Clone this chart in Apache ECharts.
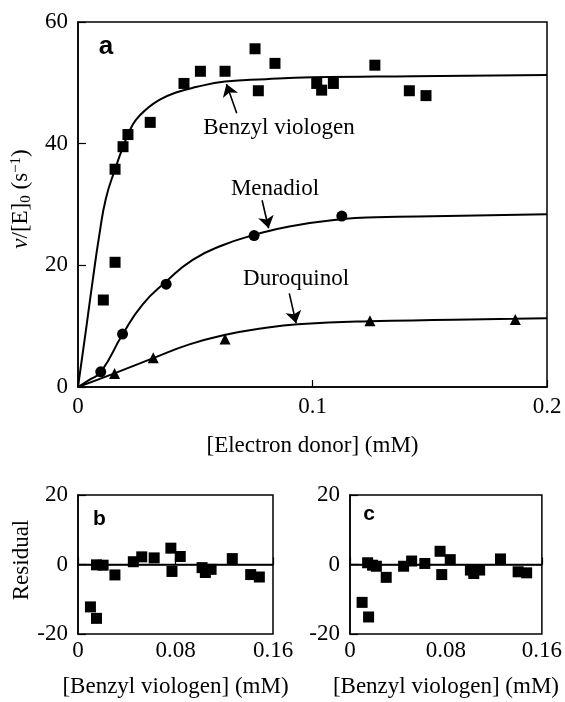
<!DOCTYPE html>
<html>
<head>
<meta charset="utf-8">
<script src="https://cdn.jsdelivr.net/npm/echarts@6/dist/echarts.min.js"></script>
<style>
  html, body { margin: 0; padding: 0; background: #fff; }
  #chart { width: 565px; height: 702px; }
</style>
</head>
<body>
<div id="chart"></div>
<script>
// ---------- Data ----------
// Panel a: measured points
const bvX = [0.0108, 0.0158, 0.0158, 0.0192, 0.0213, 0.0308, 0.0452, 0.0522, 0.0627, 0.0755, 0.0769, 0.0840, 0.1018, 0.1039, 0.1089, 0.1266, 0.1413, 0.1484];
const bvY = [14.3, 20.5, 35.8, 39.5, 41.5, 43.5, 49.9, 51.9, 51.9, 55.6, 48.7, 53.2, 49.9, 48.8, 49.9, 52.9, 48.7, 47.9];
const mdX = [0.0097, 0.0190, 0.0376, 0.0751, 0.1125];
const mdY = [2.5, 8.7, 16.9, 24.9, 28.1];
const dqX = [0.0156, 0.0321, 0.0627, 0.1245, 0.1865];
const dqY = [2.2, 4.8, 7.9, 10.9, 11.1];

// Panel a: fitted curves
const bvFitX = [0, 0.0034, 0.0063, 0.0091, 0.0119, 0.0159, 0.0191, 0.0219, 0.0247, 0.0290, 0.0347, 0.0418, 0.0503, 0.0627, 0.0800, 0.1000, 0.1430, 0.2000];
const bvFitY = [0, 9.4, 17.6, 25.0, 31.0, 35.9, 39.4, 42.0, 43.9, 45.6, 47.2, 48.4, 49.3, 50.2, 50.6, 50.9, 51.1, 51.3];
const mdFitX = [0, 0.0050, 0.0098, 0.0191, 0.0276, 0.0375, 0.0489, 0.0617, 0.0752, 0.0901, 0.1129, 0.1271, 0.1572, 0.2000];
const mdFitY = [0, 1.2, 2.5, 8.7, 13.6, 17.3, 20.9, 23.3, 25.0, 26.4, 27.6, 27.9, 28.1, 28.4];
const dqFitX = [0, 0.0155, 0.0318, 0.0475, 0.0624, 0.0788, 0.0937, 0.1242, 0.1856, 0.2000];
const dqFitY = [0, 2.25, 4.7, 7.0, 8.55, 9.65, 10.3, 10.8, 11.2, 11.3];

// Panel b and c: residuals
const resBX = [0.0102, 0.0152, 0.0152, 0.0206, 0.0303, 0.0454, 0.0523, 0.0625, 0.0762, 0.0771, 0.0839, 0.1018, 0.1045, 0.1092, 0.1266, 0.1417, 0.1488];
const resBY = [-12.2, -15.5, -0.1, -0.2, -3.0, 0.8, 2.2, 1.9, 4.7, -2.0, 2.3, -0.9, -2.3, -1.4, 1.7, -2.9, -3.6];
const resCX = [0.0101, 0.0155, 0.0147, 0.0188, 0.0220, 0.0302, 0.0447, 0.0514, 0.0624, 0.0751, 0.0765, 0.0836, 0.1004, 0.1032, 0.1081, 0.1255, 0.1402, 0.1473];
const resCY = [-10.9, -15.1, 0.5, -0.2, -0.5, -3.7, -0.5, 1.0, 0.3, 3.8, -2.9, 1.4, -1.6, -2.6, -1.6, 1.6, -2.1, -2.4];

// Axis ticks / labels
const mainXTicks = { min: 0, max: 0.2, interval: 0.1 };
const mainYTicks = { min: 0, max: 60, interval: 20 };
const resXTicks = { min: 0, max: 0.16, interval: 0.08 };
const resYTicks = { min: -20, max: 20, interval: 20 };

// Annotations (data coordinates of panel a)
const annoNames = ['Benzyl viologen', 'Menadiol', 'Duroquinol'];
const annoTextX = [0.0857, 0.0840, 0.0930];
const annoTextY = [42.6, 32.5, 17.7];
const arrowFromX = [0.0677, 0.0785, 0.0901];
const arrowFromY = [45.0, 30.7, 15.4];
const arrowToX = [0.0633, 0.0813, 0.0930];
const arrowToY = [49.8, 26.1, 10.5];

// ---------- Build ----------
const zip = (xs, ys) => xs.map((x, i) => [x, ys[i]]);
const SERIF = 'Liberation Serif, Times New Roman, serif';
const SANS = 'Liberation Sans, Arial, sans-serif';
const BLACK = '#000';

function xAxisCfg(grid, ticks, nameText, nameGap, margin) {
  return {
    type: 'value', gridIndex: grid, min: ticks.min, max: ticks.max, interval: ticks.interval,
    name: nameText, nameLocation: 'middle', nameGap: nameGap,
    nameTextStyle: { fontFamily: SERIF, fontSize: 23, color: BLACK },
    axisLine: { show: true, lineStyle: { color: BLACK, width: 1.5 } },
    axisTick: { show: true, inside: true, length: 7, lineStyle: { color: BLACK, width: 1.2 } },
    axisLabel: { fontFamily: SERIF, fontSize: 23, color: BLACK, margin: margin,
      formatter: v => (Math.round(v * 1000) / 1000).toString() },
    splitLine: { show: false }
  };
}
function yAxisCfg(grid, ticks) {
  return {
    type: 'value', gridIndex: grid, min: ticks.min, max: ticks.max, interval: ticks.interval,
    axisLine: { show: true, lineStyle: { color: BLACK, width: 1.5 } },
    axisTick: { show: true, inside: true, length: 8, lineStyle: { color: BLACK, width: 1.2 } },
    axisLabel: { fontFamily: SERIF, fontSize: 23, color: BLACK, margin: 10 },
    splitLine: { show: false }
  };
}

const chart = echarts.init(document.getElementById('chart'), null, { renderer: 'canvas' });

const lineBase = { type: 'line', showSymbol: false, smooth: 0.5,
  lineStyle: { color: BLACK, width: 2 }, silent: true, z: 2 };
const dot = { color: BLACK, opacity: 1 };

const option = {
  animation: false,
  backgroundColor: '#fff',
  grid: [
    { left: 78, top: 22, width: 469, height: 365, show: true, borderColor: BLACK, borderWidth: 1.5, backgroundColor: 'transparent' },
    { left: 78, top: 495, width: 195, height: 139, show: true, borderColor: BLACK, borderWidth: 1.5, backgroundColor: 'transparent' },
    { left: 350, top: 495, width: 196, height: 139, show: true, borderColor: BLACK, borderWidth: 1.5, backgroundColor: 'transparent' }
  ],
  xAxis: [
    xAxisCfg(0, mainXTicks, '[Electron donor] (mM)', 47, 8),
    xAxisCfg(1, resXTicks, '[Benzyl viologen] (mM)', 41, 5),
    xAxisCfg(2, resXTicks, '[Benzyl viologen] (mM)', 41, 5)
  ],
  yAxis: [
    yAxisCfg(0, mainYTicks),
    yAxisCfg(1, resYTicks),
    yAxisCfg(2, resYTicks)
  ],
  series: [
    Object.assign({}, lineBase, { name: 'bvFit', xAxisIndex: 0, yAxisIndex: 0, data: zip(bvFitX, bvFitY) }),
    Object.assign({}, lineBase, { name: 'mdFit', xAxisIndex: 0, yAxisIndex: 0, data: zip(mdFitX, mdFitY) }),
    Object.assign({}, lineBase, { name: 'dqFit', xAxisIndex: 0, yAxisIndex: 0, data: zip(dqFitX, dqFitY) }),
    { type: 'scatter', name: 'Benzyl viologen', xAxisIndex: 0, yAxisIndex: 0, symbol: 'rect', symbolSize: 11,
      itemStyle: dot, data: zip(bvX, bvY), z: 3,
      markLine: {
        silent: true, symbol: ['none', 'arrow'], symbolSize: 12, animation: false,
        lineStyle: { color: BLACK, width: 1.6, type: 'solid', opacity: 1 }, itemStyle: { color: BLACK }, label: { show: false },
        data: arrowFromX.map((x, i) => [{ coord: [x, arrowFromY[i]] }, { coord: [arrowToX[i], arrowToY[i]] }])
      },
      markPoint: {
        silent: true, symbol: 'circle', symbolSize: 1, itemStyle: { color: 'rgba(0,0,0,0)' },
        label: { show: true, position: 'inside', fontFamily: SERIF, fontSize: 23, color: BLACK, formatter: p => p.name },
        data: annoNames.map((n, i) => ({ name: n, coord: [annoTextX[i], annoTextY[i]] }))
      }
    },
    { type: 'scatter', name: 'Menadiol', xAxisIndex: 0, yAxisIndex: 0, symbol: 'circle', symbolSize: 11,
      itemStyle: dot, data: zip(mdX, mdY), z: 3 },
    { type: 'scatter', name: 'Duroquinol', xAxisIndex: 0, yAxisIndex: 0, symbol: 'triangle', symbolSize: 11,
      itemStyle: dot, data: zip(dqX, dqY), z: 3 },
    { type: 'scatter', name: 'resB', xAxisIndex: 1, yAxisIndex: 1, symbol: 'rect', symbolSize: 11,
      itemStyle: dot, data: zip(resBX, resBY), z: 3,
      markLine: { silent: true, symbol: 'none', animation: false, label: { show: false },
        lineStyle: { color: BLACK, width: 1.3, type: 'solid', opacity: 1 }, data: [{ yAxis: 0 }] } },
    { type: 'scatter', name: 'resC', xAxisIndex: 2, yAxisIndex: 2, symbol: 'rect', symbolSize: 11,
      itemStyle: dot, data: zip(resCX, resCY), z: 3,
      markLine: { silent: true, symbol: 'none', animation: false, label: { show: false },
        lineStyle: { color: BLACK, width: 1.3, type: 'solid', opacity: 1 }, data: [{ yAxis: 0 }] } }
  ],
  graphic: [
    { type: 'text', x: 106, y: 47, z: 10,
      style: { text: 'a', fontFamily: SANS, fontWeight: 'bold', fontSize: 26, fill: BLACK, align: 'center', verticalAlign: 'middle' } },
    { type: 'text', x: 99.5, y: 519, z: 10,
      style: { text: 'b', fontFamily: SANS, fontWeight: 'bold', fontSize: 21, fill: BLACK, align: 'center', verticalAlign: 'middle' } },
    { type: 'text', x: 369, y: 514, z: 10,
      style: { text: 'c', fontFamily: SANS, fontWeight: 'bold', fontSize: 21, fill: BLACK, align: 'center', verticalAlign: 'middle' } },
    { type: 'text', x: 21, y: 199, rotation: Math.PI / 2, z: 10,
      style: {
        text: '{i|v}/[E]{sub|0} (s{sup|\u22121})',
        fontFamily: SERIF, fontSize: 23, fill: BLACK, align: 'center', verticalAlign: 'middle',
        rich: {
          i: { fontFamily: SERIF, fontSize: 23, fontStyle: 'italic', fill: BLACK },
          sub: { fontFamily: SERIF, fontSize: 15, fill: BLACK, padding: [10, 0, 0, 0] },
          sup: { fontFamily: SERIF, fontSize: 15, fill: BLACK, padding: [0, 0, 10, 0] }
        }
      } },
    { type: 'text', x: 22, y: 560, rotation: Math.PI / 2, z: 10,
      style: { text: 'Residual', fontFamily: SERIF, fontSize: 23, fill: BLACK, align: 'center', verticalAlign: 'middle' } }
  ]
};
chart.setOption(option);
</script>
</body>
</html>
